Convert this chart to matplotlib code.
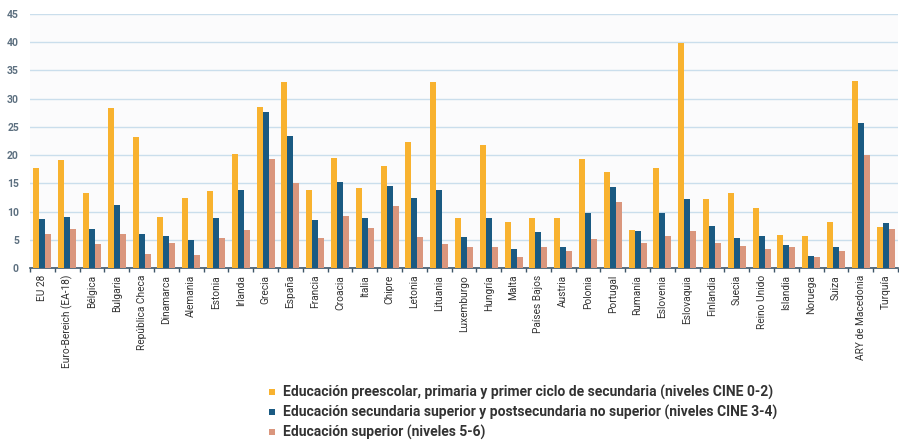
import numpy as np
import matplotlib.pyplot as plt
from matplotlib.lines import Line2D
from matplotlib.ticker import FixedLocator

countries = ['EU 28', 'Euro-Bereich (EA-18)', 'Bélgica', 'Bulgaria', 'República Checa',
             'Dinamarca', 'Alemania', 'Estonia', 'Irlanda', 'Grecia', 'España', 'Francia',
             'Croacia', 'Italia', 'Chipre', 'Letonia', 'Lituania', 'Luxemburgo', 'Hungría',
             'Malta', 'Países Bajos', 'Austria', 'Polonia', 'Portugal', 'Rumanía',
             'Eslovenia', 'Eslovaquia', 'Finlandia', 'Suecia', 'Reino Unido', 'Islandia',
             'Noruega', 'Suiza', 'ARY de Macedonia', 'Turquía']

cine_0_2 = [17.8, 19.1, 13.3, 28.3, 23.2, 9.1, 12.4, 13.7, 20.2, 28.6, 32.9, 13.9,
            19.4, 14.2, 18.0, 22.4, 32.9, 8.8, 21.8, 8.2, 8.8, 8.8, 19.3, 17.0, 6.7,
            17.7, 39.9, 12.3, 13.3, 10.6, 5.8, 5.6, 8.2, 33.2, 7.2]
cine_3_4 = [8.7, 9.1, 6.9, 11.1, 6.1, 5.6, 5.0, 8.9, 13.9, 27.7, 23.4, 8.5,
            15.2, 8.9, 14.6, 12.4, 13.8, 5.5, 8.8, 3.4, 6.3, 3.7, 9.7, 14.3, 6.5,
            9.7, 12.2, 7.5, 5.4, 5.7, 4.0, 2.2, 3.7, 25.7, 7.9]
cine_5_6 = [6.0, 6.9, 4.2, 6.0, 2.4, 4.4, 2.3, 5.4, 6.8, 19.3, 15.1, 5.4,
            9.3, 7.05, 11.0, 5.5, 4.2, 3.7, 3.7, 1.95, 3.7, 3.1, 5.2, 11.7, 4.5,
            5.75, 6.6, 4.5, 3.85, 3.4, 3.7, 1.95, 3.0, 20.0, 6.9]

labels = ['Educación preescolar, primaria y primer ciclo de secundaria (niveles CINE 0-2)',
          'Educación secundaria superior y postsecundaria no superior (niveles CINE 3-4)',
          'Educación superior (niveles 5-6)']
colors = ['#f8b22f', '#1a5a82', '#da967d']

plt.rcParams['font.family'] = ['Roboto', 'DejaVu Sans']

fig = plt.figure(figsize=(8.99, 4.42), dpi=100)
ax = fig.add_axes([30 / 899, 174 / 442, 868 / 899, 254 / 442])
ax.set_facecolor('#fbfbfc')

x = np.arange(len(countries))
w = 0.24
for k, (vals, c) in enumerate(zip([cine_0_2, cine_3_4, cine_5_6], colors)):
    ax.bar(x + (k - 1) * w, vals, width=w, color=c, zorder=3, linewidth=0)

ax.set_xlim(-0.5, len(countries) - 0.5)
ax.set_ylim(0, 45)
ax.set_yticks(np.arange(0, 50, 5))
ax.grid(axis='y', color='#cadeec', linewidth=1.0, zorder=0)

ax.set_xticks(x)
ax.set_xticklabels(countries, rotation=90, fontsize=7.3, color='#333333')
ax.tick_params(axis='x', which='major', length=0, pad=5)
ax.xaxis.set_minor_locator(FixedLocator(np.arange(-0.5, len(countries), 1)))
ax.tick_params(axis='x', which='minor', length=3, width=1, color='#3d5568', direction='out')
ax.tick_params(axis='y', length=0, labelsize=7.5, labelcolor='#5d7080', pad=8)
for lbl in ax.get_yticklabels():
    lbl.set_fontweight('bold')

for side in ['top', 'right', 'left']:
    ax.spines[side].set_visible(False)
ax.spines['bottom'].set_color('#3d5568')
ax.spines['bottom'].set_linewidth(1.2)

handles = [Line2D([], [], marker='s', linestyle='none', markersize=4.5,
                  markerfacecolor=c, markeredgewidth=0) for c in colors]
fig.legend(handles, labels, loc='upper left', bbox_to_anchor=(268 / 899, 1 - 385 / 442),
           frameon=False, handlelength=0.6, handletextpad=0.5, labelspacing=0.36,
           borderpad=0, borderaxespad=0,
           prop={'weight': 'bold', 'size': 10}, labelcolor='#333333')

fig.savefig('out.png', dpi=100)
